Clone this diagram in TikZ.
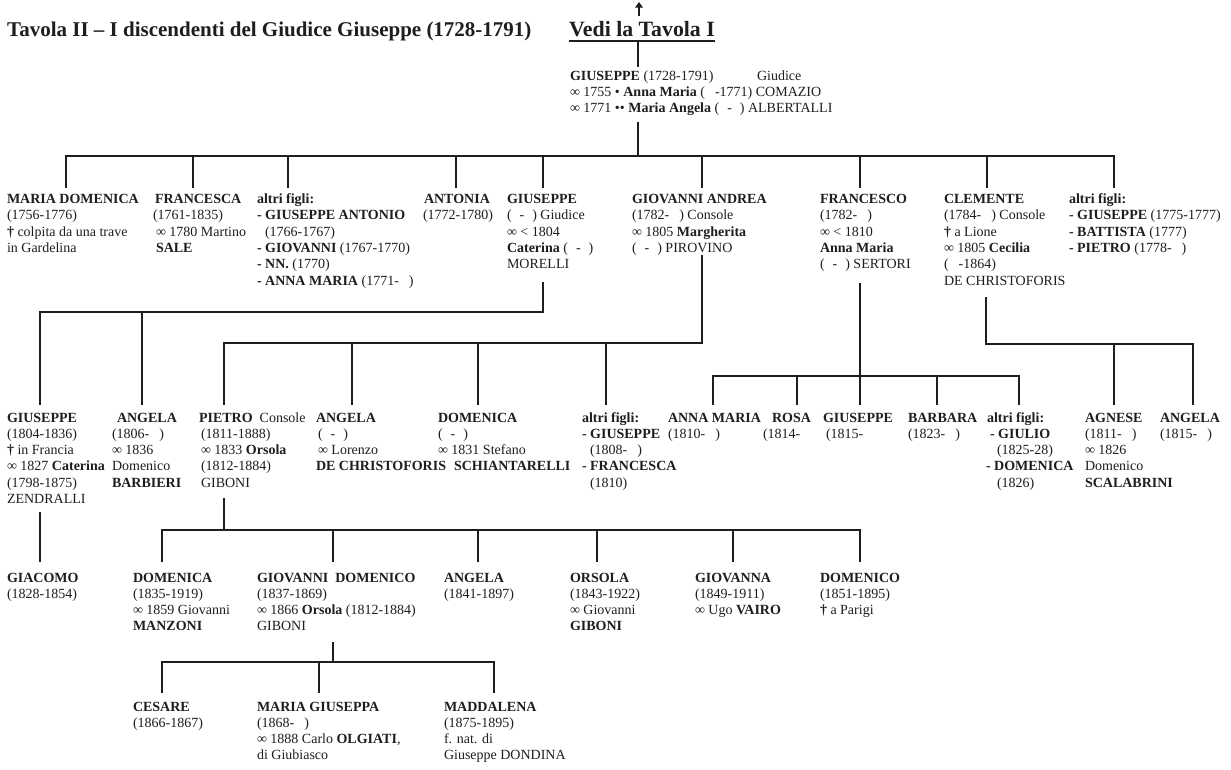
\documentclass[tikz,border=0pt]{standalone}
\usepackage{fontspec}
\setmainfont{Liberation Serif}
\usetikzlibrary{arrows.meta}
\definecolor{ink}{HTML}{1E1E1E}
\newcommand{\gp}{\hspace{8pt}}
\newcommand{\dg}{\textbf{†}}
\newcommand{\ptab}[1]{\begin{tabular}[t]{@{}l@{}}#1\end{tabular}}
\begin{document}
\begin{tikzpicture}[x=1pt,y=-1pt,
  person/.style={anchor=base west, inner sep=0pt, outer sep=0pt, text=ink,
    font=\fontsize{14}{16.3}\selectfont},
  link/.style={draw=ink, line width=2.6pt, line join=miter},
  headline/.style={anchor=base west, inner sep=0pt, text=ink, font=\fontsize{21}{24}\selectfont\bfseries},
]
\useasboundingbox (0,0) rectangle (1231,769);
\fill[white] (0,0) rectangle (1231,769);

% ---------- heading ----------
\node[headline] (title) at (7,36) {Tavola II -- I discendenti del Giudice Giuseppe (1728-1791)};
\node[headline, font=\fontsize{21.8}{24}\selectfont\bfseries] (vedi) at (569,36) {Vedi la Tavola I};
\draw[draw=ink, line width=1.8pt] ([yshift=-4.6pt]vedi.base west) -- ([yshift=-4.6pt]vedi.base east);
\coordinate (ar0) at (639,16);
\coordinate (ar1) at (639,2);
\draw[draw=ink, line width=2.4pt, -{Triangle[width=7.5pt,length=5.5pt]}] (ar0) -- (ar1);

% ---------- level 0 ----------
\node[person] (g0) at (570,80) {\ptab{\makebox[187pt][l]{\textbf{GIUSEPPE} (1728-1791)}Giudice\\
∞ 1755 • \textbf{Anna Maria} (\hspace{10pt}-1771) COMAZIO\\
∞ 1771 •• \textbf{Maria Angela} (\gp-\gp) ALBERTALLI}};

% ---------- level 1 ----------
\node[person] (mdom) at (7,203.5) {\ptab{\textbf{MARIA DOMENICA}\\(1756-1776)\\\dg\ colpita da una trave\\in Gardelina}};
\node[person] (franc) at (153,203.5) {\ptab{\hspace*{2pt}\textbf{FRANCESCA}\\(1761-1835)\\\hspace*{3pt}∞ 1780 Martino\\\hspace*{3pt}\textbf{SALE}}};
\node[person] (altri1) at (257,203.5) {\ptab{\textbf{altri figli:}\\\textbf{- GIUSEPPE ANTONIO}\\\hspace*{8pt}(1766-1767)\\\textbf{- GIOVANNI} (1767-1770)\\\textbf{- NN.} (1770)\\\textbf{- ANNA MARIA} (1771-\hspace{10pt})}};
\node[person] (antonia) at (423,203.5) {\ptab{\hspace*{1pt}\textbf{ANTONIA}\\(1772-1780)}};
\node[person] (gius1) at (507,203.5) {\ptab{\textbf{GIUSEPPE}\\(\gp-\gp) Giudice\\∞ < 1804\\\textbf{Caterina} (\gp-\gp)\\MORELLI}};
\node[person] (gandrea) at (632,203.5) {\ptab{\textbf{GIOVANNI ANDREA}\\(1782-\hspace{10pt}) Console\\∞ 1805 \textbf{Margherita}\\(\gp-\gp) PIROVINO}};
\node[person] (francesco) at (820,203.5) {\ptab{\textbf{FRANCESCO}\\(1782-\hspace{10pt})\\∞ < 1810\\\textbf{Anna Maria}\\(\gp-\gp) SERTORI}};
\node[person] (clemente) at (944,203.5) {\ptab{\textbf{CLEMENTE}\\(1784-\hspace{10pt}) Console\\\dg\ a Lione\\∞ 1805 \textbf{Cecilia}\\(\hspace{10pt}-1864)\\DE CHRISTOFORIS}};
\node[person] (altri2) at (1069,203.5) {\ptab{\textbf{altri figli:}\\\textbf{- GIUSEPPE} (1775-1777)\\\textbf{- BATTISTA} (1777)\\\textbf{- PIETRO} (1778-\hspace{10pt})}};

% ---------- level 2 ----------
\node[person] (gius2) at (7,422) {\ptab{\textbf{GIUSEPPE}\\(1804-1836)\\\dg\ in Francia\\∞ 1827 \textbf{Caterina}\\(1798-1875)\\ZENDRALLI}};
\node[person] (angela2a) at (112,422) {\ptab{\hspace*{5pt}\textbf{ANGELA}\\(1806-\hspace{10pt})\\∞ 1836\\Domenico\\\textbf{BARBIERI}}};
\node[person] (pietro) at (199,422) {\ptab{\textbf{PIETRO}\ \ Console\\\hspace*{2pt}(1811-1888)\\\hspace*{2pt}∞ 1833 \textbf{Orsola}\\\hspace*{2pt}(1812-1884)\\\hspace*{2pt}GIBONI}};
\node[person] (angela2b) at (316,422) {\ptab{\textbf{ANGELA}\\\hspace*{2pt}(\gp-\gp)\\\hspace*{2pt}∞ Lorenzo\\\textbf{DE CHRISTOFORIS}}};
\node[person] (domenica2) at (438,422) {\ptab{\textbf{DOMENICA}\\(\gp-\gp)\\∞ 1831 Stefano\\\hspace*{16pt}\textbf{SCHIANTARELLI}}};
\node[person] (altri3) at (582,422) {\ptab{\textbf{altri figli:}\\\textbf{- GIUSEPPE}\\\hspace*{8pt}(1808-\hspace{10pt})\\\textbf{- FRANCESCA}\\\hspace*{8pt}(1810)}};
\node[person] (annamaria) at (668,422) {\ptab{\textbf{ANNA MARIA}\\(1810-\hspace{10pt})}};
\node[person] (rosa) at (772,422) {\ptab{\textbf{ROSA}\\\hspace*{-9pt}(1814-}};
\node[person] (gius2b) at (823,422) {\ptab{\textbf{GIUSEPPE}\\\hspace*{3pt}(1815-}};
\node[person] (barbara) at (908,422) {\ptab{\textbf{BARBARA}\\(1823-\hspace{10pt})}};
\node[person] (altri4) at (986,422) {\ptab{\hspace*{1pt}\textbf{altri figli:}\\\hspace*{4pt}\textbf{- GIULIO}\\\hspace*{11pt}(1825-28)\\\textbf{- DOMENICA}\\\hspace*{11pt}(1826)}};
\node[person] (agnese) at (1085,422) {\ptab{\textbf{AGNESE}\\(1811-\hspace{10pt})\\∞ 1826\\Domenico\\\textbf{SCALABRINI}}};
\node[person] (angela2c) at (1160,422) {\ptab{\textbf{ANGELA}\\(1815-\hspace{10pt})}};

% ---------- level 3 ----------
\node[person] (giacomo) at (7,582) {\ptab{\textbf{GIACOMO}\\(1828-1854)}};
\node[person] (domenica3) at (133,582) {\ptab{\textbf{DOMENICA}\\(1835-1919)\\∞ 1859 Giovanni\\\textbf{MANZONI}}};
\node[person] (giovdom) at (257,582) {\ptab{\textbf{GIOVANNI\ \ DOMENICO}\\(1837-1869)\\∞ 1866 \textbf{Orsola} (1812-1884)\\GIBONI}};
\node[person] (angela3) at (444,582) {\ptab{\textbf{ANGELA}\\(1841-1897)}};
\node[person] (orsola) at (570,582) {\ptab{\textbf{ORSOLA}\\(1843-1922)\\∞ Giovanni\\\textbf{GIBONI}}};
\node[person] (giovanna) at (695,582) {\ptab{\textbf{GIOVANNA}\\(1849-1911)\\∞ Ugo \textbf{VAIRO}}};
\node[person] (domenico3) at (820,582) {\ptab{\textbf{DOMENICO}\\(1851-1895)\\\dg\ a Parigi}};

% ---------- level 4 ----------
\node[person] (cesare) at (133,711) {\ptab{\textbf{CESARE}\\(1866-1867)}};
\node[person] (mgiuseppa) at (257,711) {\ptab{\textbf{MARIA GIUSEPPA}\\(1868-\hspace{10pt})\\∞ 1888 Carlo \textbf{OLGIATI},\\di Giubiasco}};
\node[person] (maddalena) at (444,711) {\ptab{\textbf{MADDALENA}\\(1875-1895)\\f. nat. di\\Giuseppe DONDINA}};

% ---------- connectors level 0 -> 1 ----------
\coordinate (u0) at (638,40.5);
\coordinate (s0a) at (638,67);
\coordinate (s0b) at (638,122);
\coordinate (bus0) at (638,156);
\coordinate (k1) at (66,188);
\coordinate (k2) at (193,188);
\coordinate (k3) at (288,188);
\coordinate (k4) at (456,188);
\coordinate (k5) at (543,188);
\coordinate (k6) at (702,188);
\coordinate (k7) at (860,188);
\coordinate (k8) at (987,188);
\coordinate (k9) at (1114,188);
\draw[link] (u0) -- (s0a);
\draw[link] (s0b) -- (bus0);
\draw[link] (k1) |- (bus0) -| (k9);
\foreach \k in {k2,k3,k4,k5,k6,k7,k8} \draw[link] (\k) -- (\k |- bus0);

% ---------- connectors level 1 -> 2 ----------
\coordinate (gA) at (543,282);
\coordinate (gB) at (543,312);
\coordinate (m1) at (40,405);
\coordinate (m2) at (142,405);
\draw[link] (m1) |- (gB) -- (gA);
\draw[link] (m2) -- (m2 |- gB);
\coordinate (aA) at (702,255);
\coordinate (aB) at (702,343);
\coordinate (n1) at (224,405);
\coordinate (n2) at (352,405);
\coordinate (n3) at (478,405);
\coordinate (n4) at (606,405);
\draw[link] (n1) |- (aB) -- (aA);
\foreach \k in {n2,n3,n4} \draw[link] (\k) -- (\k |- aB);
\coordinate (fA) at (860,283);
\coordinate (fB) at (860,376);
\coordinate (o1) at (713,405);
\coordinate (o2) at (797,405);
\coordinate (o3) at (860,405);
\coordinate (o4) at (937,405);
\coordinate (o5) at (1019,405);
\draw[link] (o1) |- (fB) -| (o5);
\draw[link] (fA) -- (o3);
\foreach \k in {o2,o4} \draw[link] (\k) -- (\k |- fB);
\coordinate (cA) at (986,297);
\coordinate (cB) at (986,344);
\coordinate (q1) at (1114,405);
\coordinate (q2) at (1193,405);
\draw[link] (cA) -- (cB) -| (q2);
\draw[link] (q1) -- (q1 |- cB);

% ---------- connectors level 2 -> 3 ----------
\coordinate (jA) at (40,512);
\coordinate (jB) at (40,562);
\draw[link] (jA) -- (jB);
\coordinate (pA) at (224,498);
\coordinate (pB) at (224,530);
\coordinate (r1) at (162,562);
\coordinate (r2) at (333,562);
\coordinate (r3) at (478,562);
\coordinate (r4) at (597,562);
\coordinate (r5) at (733,562);
\coordinate (r6) at (860,562);
\draw[link] (r1) |- (pB) -| (r6);
\draw[link] (pA) -- (pB);
\foreach \k in {r2,r3,r4,r5} \draw[link] (\k) -- (\k |- pB);

% ---------- connectors level 3 -> 4 ----------
\coordinate (hA) at (333,642);
\coordinate (hB) at (333,662);
\coordinate (t1) at (162,693);
\coordinate (t2) at (319,693);
\coordinate (t3) at (494,693);
\draw[link] (t1) |- (hB) -| (t3);
\draw[link] (hA) -- (hB);
\draw[link] (t2) -- (t2 |- hB);
\end{tikzpicture}
\end{document}
